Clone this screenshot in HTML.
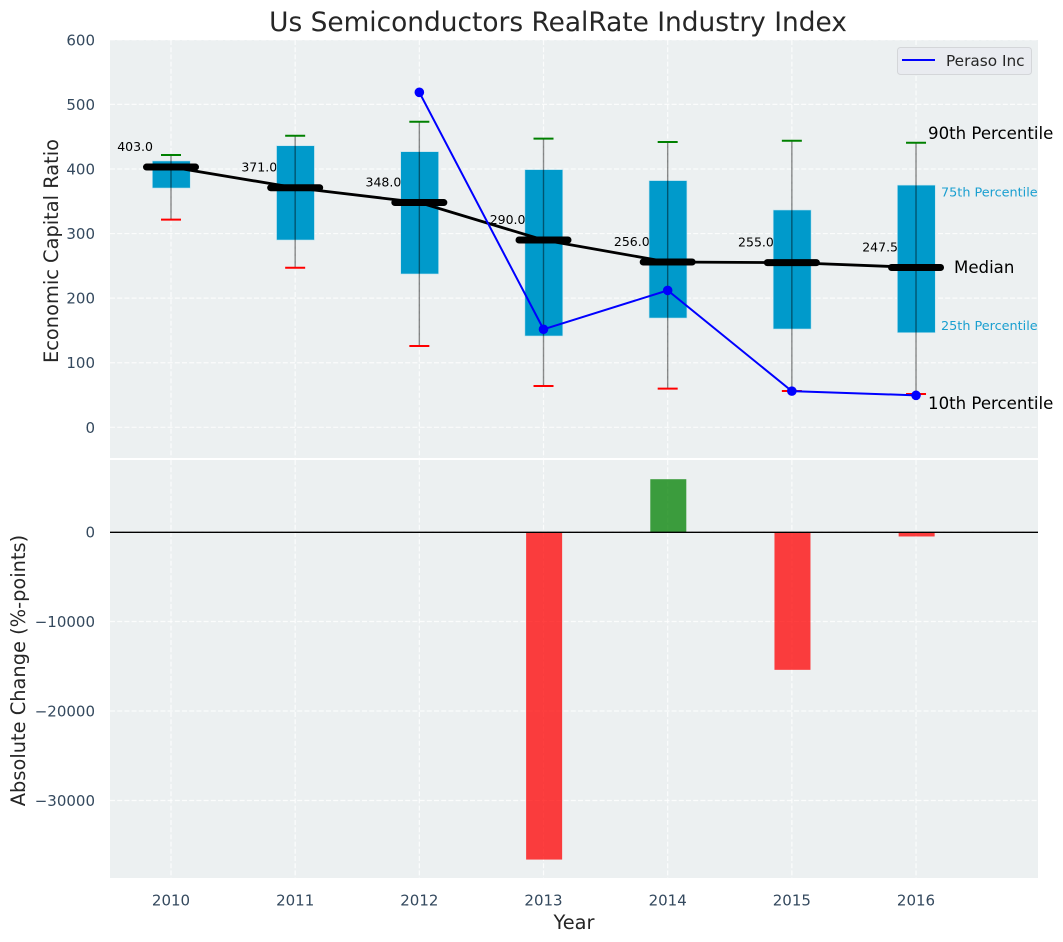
<!DOCTYPE html>
<html>
<head>
<meta charset="utf-8">
<title>Us Semiconductors RealRate Industry Index</title>
<style>
html,body{margin:0;padding:0;background:#fff;width:1063px;height:942px;overflow:hidden}
svg{display:block}
text{font-family:"DejaVu Sans","Liberation Sans",sans-serif}
</style>
</head>
<body>
<svg id="chart" width="1063" height="942" viewBox="0 0 1063 942" xmlns="http://www.w3.org/2000/svg"></svg>
<script>
const years = [2010, 2011, 2012, 2013, 2014, 2015, 2016];
const medians = [403, 371, 348, 290, 256, 255, 247.5];
const q75 = [412.4, 436, 426.8, 399, 382, 336.5, 375];
const q25 = [370.5, 290, 237.4, 141.4, 169.2, 152.2, 146.5];
const p90 = [421.6, 451.5, 473.2, 447, 441.8, 443.8, 440.7];
const p10 = [321.5, 247, 125.9, 64, 59.8, 56.2, 51.6];
const peraso = [null, null, 518.7, 151.8, 212, 56, 49.5];
const changes = [0, 0, 0, -36600, 5900, -15400, -500];
const topTicks = [0, 100, 200, 300, 400, 500, 600];
const bottomTicks = [0, -10000, -20000, -30000];

const svg = document.getElementById('chart');
const NS = 'http://www.w3.org/2000/svg';
function x(year){ return 171 + (year - 2010) * 124.17; }
function yTop(v){ return 427.3 - v * 0.6458; }
function yBot(v){ return 532 - v * 0.00895; }
function w(v){ return v * 124.17; }
function make(tag, attrs, text){
  const el = document.createElementNS(NS, tag);
  for (const k in attrs) el.setAttribute(k, attrs[k]);
  if (text !== undefined) el.textContent = text;
  svg.appendChild(el);
  return el;
}
function fmt(v){ return String(v).replace('-', '\u2212'); }
let el;

el = make('rect', {x:110, y:40, width:928, height:418, fill:'#ecf0f1'});


el = make('rect', {x:110, y:460, width:928, height:418, fill:'#ecf0f1'});



const gridStyle = {stroke:'#ffffff', 'stroke-width':1.2, 'stroke-dasharray':'5 2.2', 'stroke-opacity':0.8, fill:'none'};
years.forEach(function(yr){
  el = make('line', Object.assign({x1:x(yr), x2:x(yr), y1:40, y2:458}, gridStyle));
  
  
  el = make('line', Object.assign({x1:x(yr), x2:x(yr), y1:460, y2:878}, gridStyle));
  
  
  el = make('text', {x:x(yr), y:905.5, 'text-anchor':'middle', 'font-size':15, fill:'#34495e'}, String(yr));
  
  
});
topTicks.forEach(function(t){
  el = make('line', Object.assign({x1:110, x2:1038, y1:yTop(t), y2:yTop(t)}, gridStyle));
  
  
  el = make('text', {x:95, y:yTop(t) + 5.5, 'text-anchor':'end', 'font-size':15, fill:'#34495e'}, fmt(t));
  
  
});
bottomTicks.forEach(function(t){
  el = make('line', Object.assign({x1:110, x2:1038, y1:yBot(t), y2:yBot(t)}, gridStyle));
  
  
  el = make('text', {x:95, y:yBot(t) + 5.5, 'text-anchor':'end', 'font-size':15, fill:'#34495e'}, fmt(t));
  
  
});

// median value labels sit beneath the boxes
years.forEach(function(yr, i){
  el = make('text', {x:x(yr) - 18, y:yTop(medians[i]) - 16, 'text-anchor':'end', 'font-size':12.5, fill:'#000'}, medians[i].toFixed(1));
  
  
});

// boxes
years.forEach(function(yr, i){
  el = make('rect', {x:x(yr) - w(0.15), y:yTop(q75[i]), width:w(0.305), height:yTop(q25[i]) - yTop(q75[i]), fill:'#009acb', stroke:'#bfe3ef', 'stroke-width':0.6});
  
  
});
// whiskers
years.forEach(function(yr, i){
  el = make('line', {x1:x(yr), x2:x(yr), y1:yTop(p90[i]), y2:yTop(p10[i]), stroke:'#000', 'stroke-opacity':0.45, 'stroke-width':1.4});
  
  
  el = make('line', {x1:x(yr) - 10, x2:x(yr) + 10, y1:yTop(p90[i]), y2:yTop(p90[i]), stroke:'#008000', 'stroke-width':2});
  
  
  el = make('line', {x1:x(yr) - 10, x2:x(yr) + 10, y1:yTop(p10[i]), y2:yTop(p10[i]), stroke:'#ff0000', 'stroke-width':2});
  
  
});
// median connection and bars
el = make('polyline', {points:years.map(function(yr, i){ return x(yr) + ',' + yTop(medians[i]); }).join(' '), fill:'none', stroke:'#000', 'stroke-width':2.8});


years.forEach(function(yr, i){
  el = make('line', {x1:x(yr) - 24.5, x2:x(yr) + 24.5, y1:yTop(medians[i]), y2:yTop(medians[i]), stroke:'#000', 'stroke-width':7, 'stroke-linecap':'round'});
  
  
});
// Peraso series
const perasoPts = [];
years.forEach(function(yr, i){ if (peraso[i] !== null) perasoPts.push(x(yr) + ',' + yTop(peraso[i])); });
el = make('polyline', {points:perasoPts.join(' '), fill:'none', stroke:'#0000ff', 'stroke-width':2});


years.forEach(function(yr, i){
  if (peraso[i] === null) return;
  el = make('circle', {cx:x(yr), cy:yTop(peraso[i]), r:4.8, fill:'#0000ff'});
  
  
});

// annotations anchored on the final box
const last = years.length - 1;
const lastX = x(years[last]);
el = make('text', {x:lastX + 12, y:yTop(p90[last]) - 3.5, 'font-size':16.6, fill:'#000'}, '90th Percentile');


el = make('text', {x:lastX + 12, y:yTop(p10[last]) + 15, 'font-size':16.6, fill:'#000'}, '10th Percentile');


el = make('text', {x:lastX + 25, y:yTop(q75[last]) + 11.5, 'font-size':12.8, fill:'#1a9fd0'}, '75th Percentile');


el = make('text', {x:lastX + 25, y:yTop(q25[last]) - 2.5, 'font-size':12.8, fill:'#1a9fd0'}, '25th Percentile');


el = make('text', {x:lastX + 38, y:yTop(medians[last]) + 5.5, 'font-size':16.6, fill:'#000'}, 'Median');



// change bars
years.forEach(function(yr, i){
  const v = changes[i];
  if (v === 0) return;
  el = make('rect', {x:x(yr) - w(0.14), y:Math.min(yBot(v), yBot(0)), width:w(0.29), height:Math.abs(yBot(v) - yBot(0)), fill:v > 0 ? '#008000' : '#ff0000', 'fill-opacity':0.75});
  
  
});
el = make('line', {x1:110, x2:1038, y1:yBot(0) + 0.3, y2:yBot(0) + 0.3, stroke:'#000', 'stroke-width':1.4});



// legend
el = make('rect', {x:897.5, y:47.5, width:134, height:27, rx:3, fill:'#e9ebf0', stroke:'#d4d6d9', 'stroke-width':1});


el = make('line', {x1:902, x2:935, y1:60, y2:60, stroke:'#0000ff', 'stroke-width':2});


el = make('text', {x:946, y:66, 'font-size':15.3, fill:'#262626'}, 'Peraso Inc');



// titles
el = make('text', {x:558, y:31, 'text-anchor':'middle', 'font-size':26.4, fill:'#262626'}, 'Us Semiconductors RealRate Industry Index');


el = make('text', {x:574, y:929, 'text-anchor':'middle', 'font-size':19.4, fill:'#262626'}, 'Year');


el = make('text', {transform:'translate(58,251) rotate(-90)', 'text-anchor':'middle', 'font-size':19.4, fill:'#262626'}, 'Economic Capital Ratio');


el = make('text', {transform:'translate(25,670.5) rotate(-90)', 'text-anchor':'middle', 'font-size':19.4, fill:'#262626'}, 'Absolute Change (%-points)');


</script>
</body>
</html>
